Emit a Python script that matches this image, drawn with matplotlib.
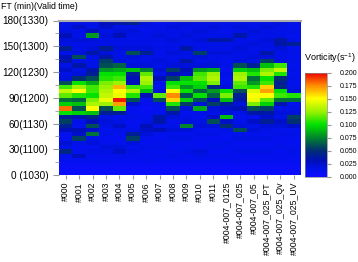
import numpy as np
import matplotlib.pyplot as plt
from matplotlib.colors import LinearSegmentedColormap

plt.rcParams['font.family'] = ['Liberation Sans', 'DejaVu Sans']
plt.rcParams['mathtext.default'] = 'regular'

runs = ["#000", "#001", "#002", "#003", "#004", "#005", "#006", "#007", "#008",
        "#009", "#010", "#011", "#004-007_0125", "#004-007_025", "#004-007_05",
        "#004-007_025_PT", "#004-007_025_Qv", "#004-007_025_UV"]

# forecast time bins (min), 5-min steps from 0 to 180
ft_edges = np.arange(0, 185, 5)
ytick_vals = [0, 30, 60, 90, 120, 150, 180]
ytick_labels = ["0 (1030)", "30(1100)", "60(1130)", "90(1200)",
                "120(1230)", "150(1300)", "180(1330)"]
cbar_ticks = [0.0, 0.025, 0.05, 0.075, 0.1, 0.125, 0.15, 0.175, 0.2]

# max vorticity x 1000 (s^-1), one list per run, FT 0 -> 175
vort = [
    [3, 4, 8, 10, 12, 45, 15, 22, 10, 12, 30, 40, 55, 40, 100, 180, 95, 70,
     115, 135, 110, 60, 20, 15, 25, 15, 35, 30, 15, 40, 15, 20, 30, 18, 15, 15],
    [3, 5, 8, 10, 28, 12, 10, 15, 55, 25, 30, 12, 15, 35, 95, 60, 90, 65,
     105, 150, 125, 100, 50, 20, 15, 35, 15, 60, 20, 15, 15, 20, 15, 15, 25, 15],
    [3, 4, 8, 12, 10, 15, 10, 20, 15, 70, 25, 60, 30, 45, 90, 150, 130, 120,
     100, 110, 110, 85, 60, 40, 35, 15, 15, 15, 35, 20, 15, 20, 80, 30, 15, 15],
    [3, 5, 8, 12, 10, 15, 20, 12, 10, 15, 12, 15, 20, 15, 40, 60, 125, 145,
     135, 130, 125, 120, 105, 100, 80, 60, 55, 35, 20, 40, 15, 15, 20, 15, 25, 30],
    [3, 4, 8, 10, 12, 25, 20, 12, 10, 12, 15, 25, 15, 12, 40, 115, 170, 195,
     145, 150, 165, 125, 110, 100, 85, 65, 20, 15, 15, 20, 15, 15, 30, 20, 15, 35],
    [3, 4, 8, 10, 12, 15, 12, 20, 55, 40, 15, 12, 10, 15, 12, 10, 25, 60,
     105, 130, 110, 30, 30, 40, 90, 20, 15, 20, 60, 20, 15, 15, 15, 20, 15, 40],
    [3, 4, 8, 12, 10, 12, 15, 10, 12, 20, 25, 30, 15, 12, 10, 8, 10, 12,
     30, 90, 110, 125, 130, 115, 75, 20, 15, 15, 40, 20, 15, 15, 15, 12, 15, 20],
    [3, 5, 6, 10, 12, 10, 15, 12, 10, 12, 30, 15, 35, 35, 12, 10, 15, 60,
     115, 20, 12, 15, 30, 15, 20, 15, 20, 15, 12, 15, 12, 15, 20, 15, 15, 12],
    [3, 4, 8, 10, 15, 12, 10, 12, 15, 12, 20, 15, 12, 20, 35, 60, 105, 160,
     175, 150, 110, 100, 55, 30, 55, 20, 15, 15, 20, 15, 15, 20, 15, 15, 20, 15],
    [3, 4, 8, 12, 10, 15, 12, 10, 15, 12, 20, 75, 20, 15, 12, 20, 55, 95,
     60, 100, 80, 100, 90, 25, 30, 20, 35, 15, 15, 35, 15, 15, 20, 15, 15, 20],
    [3, 4, 8, 10, 15, 20, 12, 10, 12, 15, 12, 20, 15, 12, 15, 85, 20, 60,
     100, 65, 95, 100, 115, 110, 80, 20, 15, 20, 55, 15, 15, 20, 15, 20, 15, 15],
    [3, 4, 8, 10, 12, 10, 15, 12, 10, 15, 12, 20, 60, 25, 15, 20, 55, 30,
     65, 80, 45, 120, 130, 125, 85, 20, 15, 15, 20, 15, 15, 35, 15, 15, 20, 15],
    [3, 4, 6, 10, 12, 10, 12, 15, 10, 12, 15, 50, 25, 90, 20, 25, 40, 90,
     120, 100, 20, 15, 12, 15, 12, 15, 12, 15, 20, 15, 15, 35, 15, 12, 15, 15],
    [3, 4, 8, 12, 10, 15, 12, 10, 15, 12, 60, 20, 15, 12, 15, 30, 20, 35,
     40, 60, 110, 115, 130, 125, 95, 60, 20, 15, 15, 20, 15, 15, 35, 15, 20, 15],
    [3, 4, 8, 10, 12, 15, 10, 12, 15, 12, 20, 15, 25, 12, 35, 60, 120, 145,
     150, 140, 105, 80, 70, 105, 90, 40, 15, 20, 15, 15, 20, 15, 15, 20, 15, 15],
    [3, 4, 8, 12, 10, 15, 12, 10, 15, 12, 15, 20, 40, 25, 35, 55, 95, 115,
     150, 170, 160, 110, 100, 130, 120, 90, 55, 20, 35, 15, 15, 20, 15, 15, 20, 15],
    [3, 4, 8, 10, 12, 10, 15, 12, 10, 15, 12, 20, 25, 15, 20, 15, 35, 70,
     110, 100, 45, 40, 50, 105, 135, 110, 20, 15, 15, 20, 35, 35, 15, 15, 15, 20],
    [3, 4, 8, 10, 12, 15, 12, 10, 12, 15, 12, 25, 50, 55, 20, 15, 12, 70,
     105, 20, 15, 12, 15, 12, 15, 12, 15, 12, 15, 12, 40, 15, 12, 15, 12, 15],
]

Z = np.array(vort).T / 1000.0

cmap = LinearSegmentedColormap.from_list("vort", [
    (0.0, (0.05, 0.05, 1.0)),
    (0.08, (0.0, 0.07, 0.9)),
    (0.15, (0.0, 0.06, 0.72)),
    (0.25, (0.0, 0.18, 0.45)),
    (0.35, (0.0, 0.45, 0.22)),
    (0.45, (0.0, 0.75, 0.05)),
    (0.5, (0.0, 0.88, 0.0)),
    (0.625, (0.6, 0.95, 0.0)),
    (0.75, (1.0, 1.0, 0.0)),
    (0.875, (1.0, 0.55, 0.0)),
    (1.0, (0.93, 0.0, 0.0)),
])

fig = plt.figure(figsize=(3.58, 2.62), dpi=100)
W, H = 358, 262
ax = fig.add_axes([59 / W, 1 - 175 / H, 241.5 / W, 154.5 / H])

x_edges = np.arange(len(runs) + 1) - 0.5
mesh = ax.pcolormesh(x_edges, ft_edges, Z, cmap=cmap, vmin=0, vmax=0.2)

ax.set_xlim(-0.5, len(runs) - 0.5)
ax.set_ylim(0, 180)
ax.set_xticks(range(len(runs)))
ax.set_xticklabels(runs, rotation=90, fontsize=6.3)
ax.set_yticks(ytick_vals)
ax.set_yticklabels(ytick_labels, fontsize=7.2)
ax.set_yticks([15, 45, 75, 105, 135, 165], minor=True)
ax.tick_params(axis='y', which='major', length=4, color='#999999', pad=3.5)
ax.tick_params(axis='y', which='minor', length=3, color='#999999')
ax.tick_params(axis='x', length=3, color='#999999', pad=2)
for s in ['left', 'right', 'bottom']:
    ax.spines[s].set_visible(False)
ax.spines['top'].set_color('#aaaaaa')
ax.spines['top'].set_linewidth(1.5)

fig.text(1 / W, 1 - 6.5 / H, "FT (min)(Valid time)", fontsize=6.3, va='center')

cax = fig.add_axes([305 / W, 1 - 176.5 / H, 22 / W, 104 / H])
cb = fig.colorbar(mesh, cax=cax, ticks=cbar_ticks, format='%.3f')
cb.outline.set_edgecolor('#888888')
cb.outline.set_linewidth(0.5)
cax.tick_params(labelsize=5, length=3, color='#999999', pad=6)
fig.text(304 / W, 1 - 58.5 / H, "Vorticity(s$^{-1}$)", fontsize=6.5, va='center')

fig.savefig("out.png", dpi=100)
